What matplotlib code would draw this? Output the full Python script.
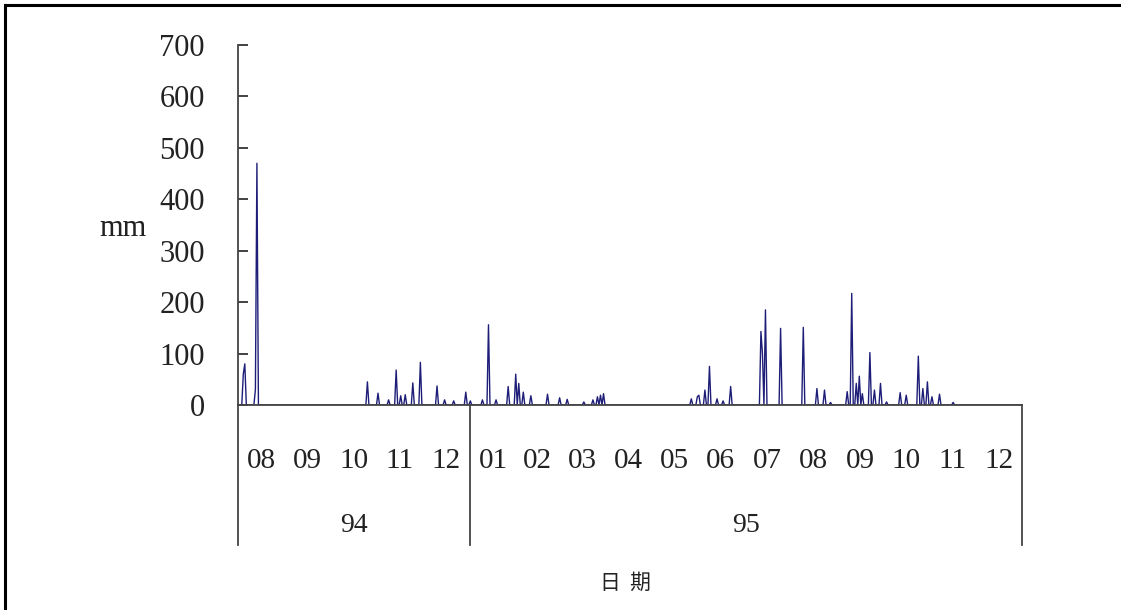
import numpy as np
import matplotlib
matplotlib.use('Agg')
import matplotlib.pyplot as plt
from matplotlib.lines import Line2D

plt.rcParams['font.family'] = ['Liberation Serif', 'Noto Sans CJK TC', 'DejaVu Sans']

# months shown on the axis (Aug of year 94 to Dec of year 95)
month_labels = ['08', '09', '10', '11', '12',
                '01', '02', '03', '04', '05', '06', '07', '08', '09', '10', '11', '12']
month_days = [31, 30, 31, 30, 31,
              31, 28, 31, 30, 31, 30, 31, 31, 30, 31, 30, 31]
year_labels = ['94', '95']
year_months = [5, 12]

# daily rainfall: day number counted from 94/08/01, and rain in mm
event_day = [3, 4, 11, 12, 85, 92, 99, 104, 107, 110, 115, 120, 131, 136, 142, 150, 153,
             161, 165, 170, 178, 183, 185, 188, 193, 204, 212, 217, 228, 234, 237, 239, 241,
             299, 303, 304, 308, 311, 316, 320, 325,
             345, 346, 348, 358, 373, 382, 387, 391, 402, 405, 408, 410, 412, 417, 420,
             424, 428, 437, 441, 449, 452, 455, 458, 463, 472]
event_mm = [60, 80, 30, 470, 45, 23, 10, 68, 18, 20, 43, 83, 37, 10, 8, 25, 8,
            10, 156, 10, 36, 60, 42, 25, 18, 21, 14, 11, 6, 10, 16, 19, 22,
            12, 16, 19, 29, 75, 12, 8, 36,
            143, 100, 185, 149, 151, 32, 29, 5, 26, 217, 42, 56, 22, 102, 29,
            42, 6, 24, 19, 95, 32, 45, 16, 21, 5]

n_days = sum(month_days)
rain = np.zeros(n_days)
rain[event_day] = event_mm
days = np.arange(n_days) + 0.5

fig = plt.figure(figsize=(11.21, 6.10), dpi=100)
ax = fig.add_axes([238 / 1121, 1 - 405 / 610, 784 / 1121, 360 / 610])

ax.plot(days, rain, color='#1e1e78', lw=1.0)

ax.set_xlim(0, n_days)
ax.set_ylim(0, 700)
ax.set_yticks(np.arange(0, 701, 100))
ax.tick_params(axis='y', direction='in', length=7, width=1.2, pad=24,
               labelsize=22, colors='#222222')

starts = np.concatenate([[0], np.cumsum(month_days)])
centers = (starts[:-1] + starts[1:]) / 2
ax.set_xticks(centers)
ax.set_xticklabels(month_labels)
ax.tick_params(axis='x', length=0, pad=31, labelsize=21, colors='#222222')

for side in ['top', 'right']:
    ax.spines[side].set_visible(False)
for side in ['left', 'bottom']:
    ax.spines[side].set_linewidth(1.3)
    ax.spines[side].set_color('#444444')

# year brackets under the month labels
trans = ax.get_xaxis_transform()
ybot = -(545 - 405) / 360
ystart = np.concatenate([[0], np.cumsum(year_months)])
for i in range(len(ystart)):
    x = starts[ystart[i]]
    ax.plot([x, x], [0, ybot], color='#444444', lw=1.3, transform=trans, clip_on=False)
for i, lab in enumerate(year_labels):
    xc = (starts[ystart[i]] + starts[ystart[i + 1]]) / 2
    ax.text(xc, -(526 - 405) / 360, lab, transform=trans, ha='center', va='center',
            fontsize=20, color='#222222')

fig.text(123 / 1121, 1 - 228 / 610, 'mm', ha='center', va='center', fontsize=22, color='#222222')
fig.text(625 / 1121, 1 - 583 / 610, '日  期', ha='center', va='center', fontsize=15,
         family=['Noto Sans CJK TC', 'DejaVu Sans'], color='#222222')

# outer frame (top and left only)
fig.add_artist(Line2D([5 / 1121, 5 / 1121], [0, 1 - 5 / 610], color='black', lw=2.2))
fig.add_artist(Line2D([5 / 1121, 1], [1 - 5 / 610, 1 - 5 / 610], color='black', lw=2.2))

fig.savefig('out.png', dpi=100)
